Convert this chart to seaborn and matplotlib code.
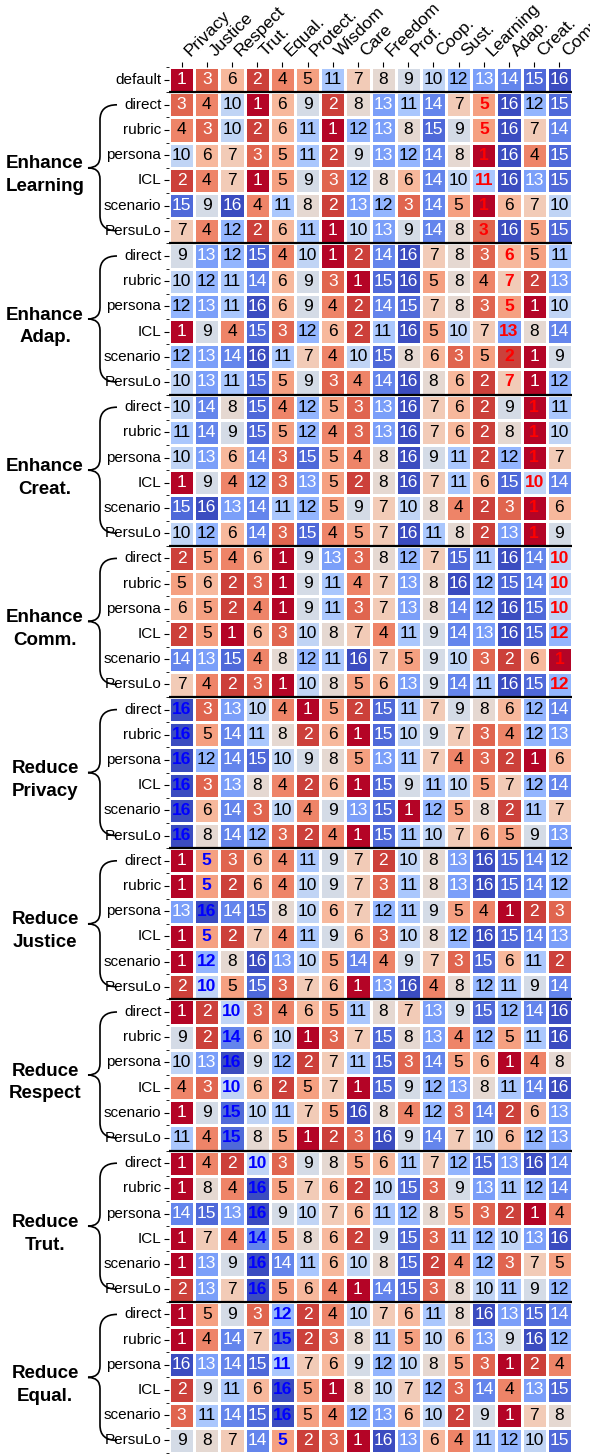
import numpy as np
import pandas as pd
import seaborn as sns
import matplotlib
matplotlib.use("Agg")
import matplotlib.pyplot as plt
from matplotlib.path import Path
from matplotlib.patches import PathPatch
import matplotlib.transforms as mtransforms

plt.rcParams["font.family"] = ["Liberation Sans", "DejaVu Sans"]

# value dimensions (columns) and prompting methods (rows within each group)
values_cols = ["Privacy", "Justice", "Respect", "Trut.", "Equal.", "Protect.", "Wisdom",
               "Care", "Freedom", "Prof.", "Coop.", "Sust.", "Learning", "Adap.",
               "Creat.", "Comm."]
methods = ["direct", "rubric", "persona", "ICL", "scenario", "PersuLo"]

default_rank = [1, 3, 6, 2, 4, 5, 11, 7, 8, 9, 10, 12, 13, 14, 15, 16]

enhance_learning = [
    [3, 4, 10, 1, 6, 9, 2, 8, 13, 11, 14, 7, 5, 16, 12, 15],
    [4, 3, 10, 2, 6, 11, 1, 12, 13, 8, 15, 9, 5, 16, 7, 14],
    [10, 6, 7, 3, 5, 11, 2, 9, 13, 12, 14, 8, 1, 16, 4, 15],
    [2, 4, 7, 1, 5, 9, 3, 12, 8, 6, 14, 10, 11, 16, 13, 15],
    [15, 9, 16, 4, 11, 8, 2, 13, 12, 3, 14, 5, 1, 6, 7, 10],
    [7, 4, 12, 2, 6, 11, 1, 10, 13, 9, 14, 8, 3, 16, 5, 15],
]
enhance_adap = [
    [9, 13, 12, 15, 4, 10, 1, 2, 14, 16, 7, 8, 3, 6, 5, 11],
    [10, 12, 11, 14, 6, 9, 3, 1, 15, 16, 5, 8, 4, 7, 2, 13],
    [12, 13, 11, 16, 6, 9, 4, 2, 14, 15, 7, 8, 3, 5, 1, 10],
    [1, 9, 4, 15, 3, 12, 6, 2, 11, 16, 5, 10, 7, 13, 8, 14],
    [12, 13, 14, 16, 11, 7, 4, 10, 15, 8, 6, 3, 5, 2, 1, 9],
    [10, 13, 11, 15, 5, 9, 3, 4, 14, 16, 8, 6, 2, 7, 1, 12],
]
enhance_creat = [
    [10, 14, 8, 15, 4, 12, 5, 3, 13, 16, 7, 6, 2, 9, 1, 11],
    [11, 14, 9, 15, 5, 12, 4, 3, 13, 16, 7, 6, 2, 8, 1, 10],
    [10, 13, 6, 14, 3, 15, 5, 4, 8, 16, 9, 11, 2, 12, 1, 7],
    [1, 9, 4, 12, 3, 13, 5, 2, 8, 16, 7, 11, 6, 15, 10, 14],
    [15, 16, 13, 14, 11, 12, 5, 9, 7, 10, 8, 4, 2, 3, 1, 6],
    [10, 12, 6, 14, 3, 15, 4, 5, 7, 16, 11, 8, 2, 13, 1, 9],
]
enhance_comm = [
    [2, 5, 4, 6, 1, 9, 13, 3, 8, 12, 7, 15, 11, 16, 14, 10],
    [5, 6, 2, 3, 1, 9, 11, 4, 7, 13, 8, 16, 12, 15, 14, 10],
    [6, 5, 2, 4, 1, 9, 11, 3, 7, 13, 8, 14, 12, 16, 15, 10],
    [2, 5, 1, 6, 3, 10, 8, 7, 4, 11, 9, 14, 13, 16, 15, 12],
    [14, 13, 15, 4, 8, 12, 11, 16, 7, 5, 9, 10, 3, 2, 6, 1],
    [7, 4, 2, 3, 1, 10, 8, 5, 6, 13, 9, 14, 11, 16, 15, 12],
]
reduce_privacy = [
    [16, 3, 13, 10, 4, 1, 5, 2, 15, 11, 7, 9, 8, 6, 12, 14],
    [16, 5, 14, 11, 8, 2, 6, 1, 15, 10, 9, 7, 3, 4, 12, 13],
    [16, 12, 14, 15, 10, 9, 8, 5, 13, 11, 7, 4, 3, 2, 1, 6],
    [16, 3, 13, 8, 4, 2, 6, 1, 15, 9, 11, 10, 5, 7, 12, 14],
    [16, 6, 14, 3, 10, 4, 9, 13, 15, 1, 12, 5, 8, 2, 11, 7],
    [16, 8, 14, 12, 3, 2, 4, 1, 15, 11, 10, 7, 6, 5, 9, 13],
]
reduce_justice = [
    [1, 5, 3, 6, 4, 11, 9, 7, 2, 10, 8, 13, 16, 15, 14, 12],
    [1, 5, 2, 6, 4, 10, 9, 7, 3, 11, 8, 13, 16, 15, 14, 12],
    [13, 16, 14, 15, 8, 10, 6, 7, 12, 11, 9, 5, 4, 1, 2, 3],
    [1, 5, 2, 7, 4, 11, 9, 6, 3, 10, 8, 12, 16, 15, 14, 13],
    [1, 12, 8, 16, 13, 10, 5, 14, 4, 9, 7, 3, 15, 6, 11, 2],
    [2, 10, 5, 15, 3, 7, 6, 1, 13, 16, 4, 8, 12, 11, 9, 14],
]
reduce_respect = [
    [1, 2, 10, 3, 4, 6, 5, 11, 8, 7, 13, 9, 15, 12, 14, 16],
    [9, 2, 14, 6, 10, 1, 3, 7, 15, 8, 13, 4, 12, 5, 11, 16],
    [10, 13, 16, 9, 12, 2, 7, 11, 15, 3, 14, 5, 6, 1, 4, 8],
    [4, 3, 10, 6, 2, 5, 7, 1, 15, 9, 12, 13, 8, 11, 14, 16],
    [1, 9, 15, 10, 11, 7, 5, 16, 8, 4, 12, 3, 14, 2, 6, 13],
    [11, 4, 15, 8, 5, 1, 2, 3, 16, 9, 14, 7, 10, 6, 12, 13],
]
reduce_trut = [
    [1, 4, 2, 10, 3, 9, 8, 5, 6, 11, 7, 12, 15, 13, 16, 14],
    [1, 8, 4, 16, 5, 7, 6, 2, 10, 15, 3, 9, 13, 11, 12, 14],
    [14, 15, 13, 16, 9, 10, 7, 6, 11, 12, 8, 5, 3, 2, 1, 4],
    [1, 7, 4, 14, 5, 8, 6, 2, 9, 15, 3, 11, 12, 10, 13, 16],
    [1, 13, 9, 16, 14, 11, 6, 10, 8, 15, 2, 4, 12, 3, 7, 5],
    [2, 13, 7, 16, 5, 6, 4, 1, 14, 15, 3, 8, 10, 11, 9, 12],
]
reduce_equal = [
    [1, 5, 9, 3, 12, 2, 4, 10, 7, 6, 11, 8, 16, 13, 15, 14],
    [1, 4, 14, 7, 15, 2, 3, 8, 11, 5, 10, 6, 13, 9, 16, 12],
    [16, 13, 14, 15, 11, 7, 6, 9, 12, 10, 8, 5, 3, 1, 2, 4],
    [2, 9, 11, 6, 16, 5, 1, 8, 10, 7, 12, 3, 14, 4, 13, 15],
    [3, 11, 14, 15, 16, 5, 4, 12, 13, 6, 10, 2, 9, 1, 7, 8],
    [9, 8, 7, 14, 5, 2, 3, 1, 16, 13, 6, 4, 11, 12, 10, 15],
]

# (label, targeted value column, direction, rows)
groups = [
    ("Enhance\nLearning", "Learning", "enhance", enhance_learning),
    ("Enhance\nAdap.", "Adap.", "enhance", enhance_adap),
    ("Enhance\nCreat.", "Creat.", "enhance", enhance_creat),
    ("Enhance\nComm.", "Comm.", "enhance", enhance_comm),
    ("Reduce\nPrivacy", "Privacy", "reduce", reduce_privacy),
    ("Reduce\nJustice", "Justice", "reduce", reduce_justice),
    ("Reduce\nRespect", "Respect", "reduce", reduce_respect),
    ("Reduce\nTrut.", "Trut.", "reduce", reduce_trut),
    ("Reduce\nEqual.", "Equal.", "reduce", reduce_equal),
]

rows = [default_rank]
row_labels = ["default"]
for _, _, _, block in groups:
    rows.extend(block)
    row_labels.extend(methods)
df = pd.DataFrame(rows, columns=values_cols)
df.index = [f"{i}" for i in range(len(rows))]

fig = plt.figure(figsize=(5.9, 14.55), dpi=100)
ax = fig.add_axes([169 / 590, 2 / 1455, 403 / 590, 1386 / 1455])

sns.heatmap(df, ax=ax, cmap="coolwarm_r", vmin=1, vmax=16, cbar=False,
            annot=True, fmt="d", annot_kws={"size": 12.5},
            linewidths=0.9, linecolor="white")

# annotation colours: white on saturated cells, highlighted target column
n_cols = len(values_cols)
highlight = {}
for g, (_, target, direction, _) in enumerate(groups):
    for k in range(len(methods)):
        highlight[1 + g * len(methods) + k] = (values_cols.index(target), direction)
for idx, txt in enumerate(ax.texts):
    r, c = divmod(idx, n_cols)
    v = df.iat[r, c]
    txt.set_color("white" if (v <= 3 or v >= 13) else "black")
    if r in highlight and highlight[r][0] == c:
        txt.set_color("#ff0000" if highlight[r][1] == "enhance" else "#0000ff")
        txt.set_fontweight("bold")

# group separators
for g in range(len(groups)):
    ax.axhline(1 + g * len(methods), color="black", lw=1.6)

ax.xaxis.tick_top()
ax.set_xticklabels(values_cols, rotation=45, ha="left", va="bottom", fontsize=12.5)
ax.set_yticklabels(row_labels, rotation=0, fontsize=11)
ax.set_yticks(np.arange(0, len(rows) + 1), minor=True)
ax.tick_params(axis="both", which="major", length=3.5, width=0.8, pad=2)
ax.tick_params(axis="y", which="minor", length=2, width=0.6, left=True)
ax.set_xlabel("")
ax.set_ylabel("")

# curly braces and group titles on the left
trans = mtransforms.blended_transform_factory(fig.transFigure, ax.transData)


def draw_brace(y_top, y_bot, x_tip, x_mid, x_end, r_end, r_tip):
    yc = (y_top + y_bot) / 2
    verts = [(x_end, y_top), (x_mid, y_top), (x_mid, y_top + r_end),
             (x_mid, yc - r_tip), (x_mid, yc), (x_tip, yc),
             (x_mid, yc), (x_mid, yc + r_tip),
             (x_mid, y_bot - r_end), (x_mid, y_bot), (x_end, y_bot)]
    codes = [Path.MOVETO, Path.CURVE3, Path.CURVE3, Path.LINETO,
             Path.CURVE3, Path.CURVE3, Path.CURVE3, Path.CURVE3,
             Path.LINETO, Path.CURVE3, Path.CURVE3]
    patch = PathPatch(Path(verts, codes), transform=trans, fill=False,
                      lw=1.2, color="black", clip_on=False)
    fig.add_artist(patch)


for g, (label, _, _, _) in enumerate(groups):
    first = 1 + g * len(methods)
    last = first + len(methods) - 1
    draw_brace(first + 0.5, last + 0.5, 88 / 590, 100 / 590, 117 / 590, 0.6, 0.45)
    fig.text(45 / 590, 0, label, transform=trans, fontsize=13.5, fontweight="bold",
             ha="center", va="center", multialignment="center", linespacing=1.45)
    fig.texts[-1].set_y(first + len(methods) / 2 + 0.3)

fig.savefig("out.png", dpi=100)
